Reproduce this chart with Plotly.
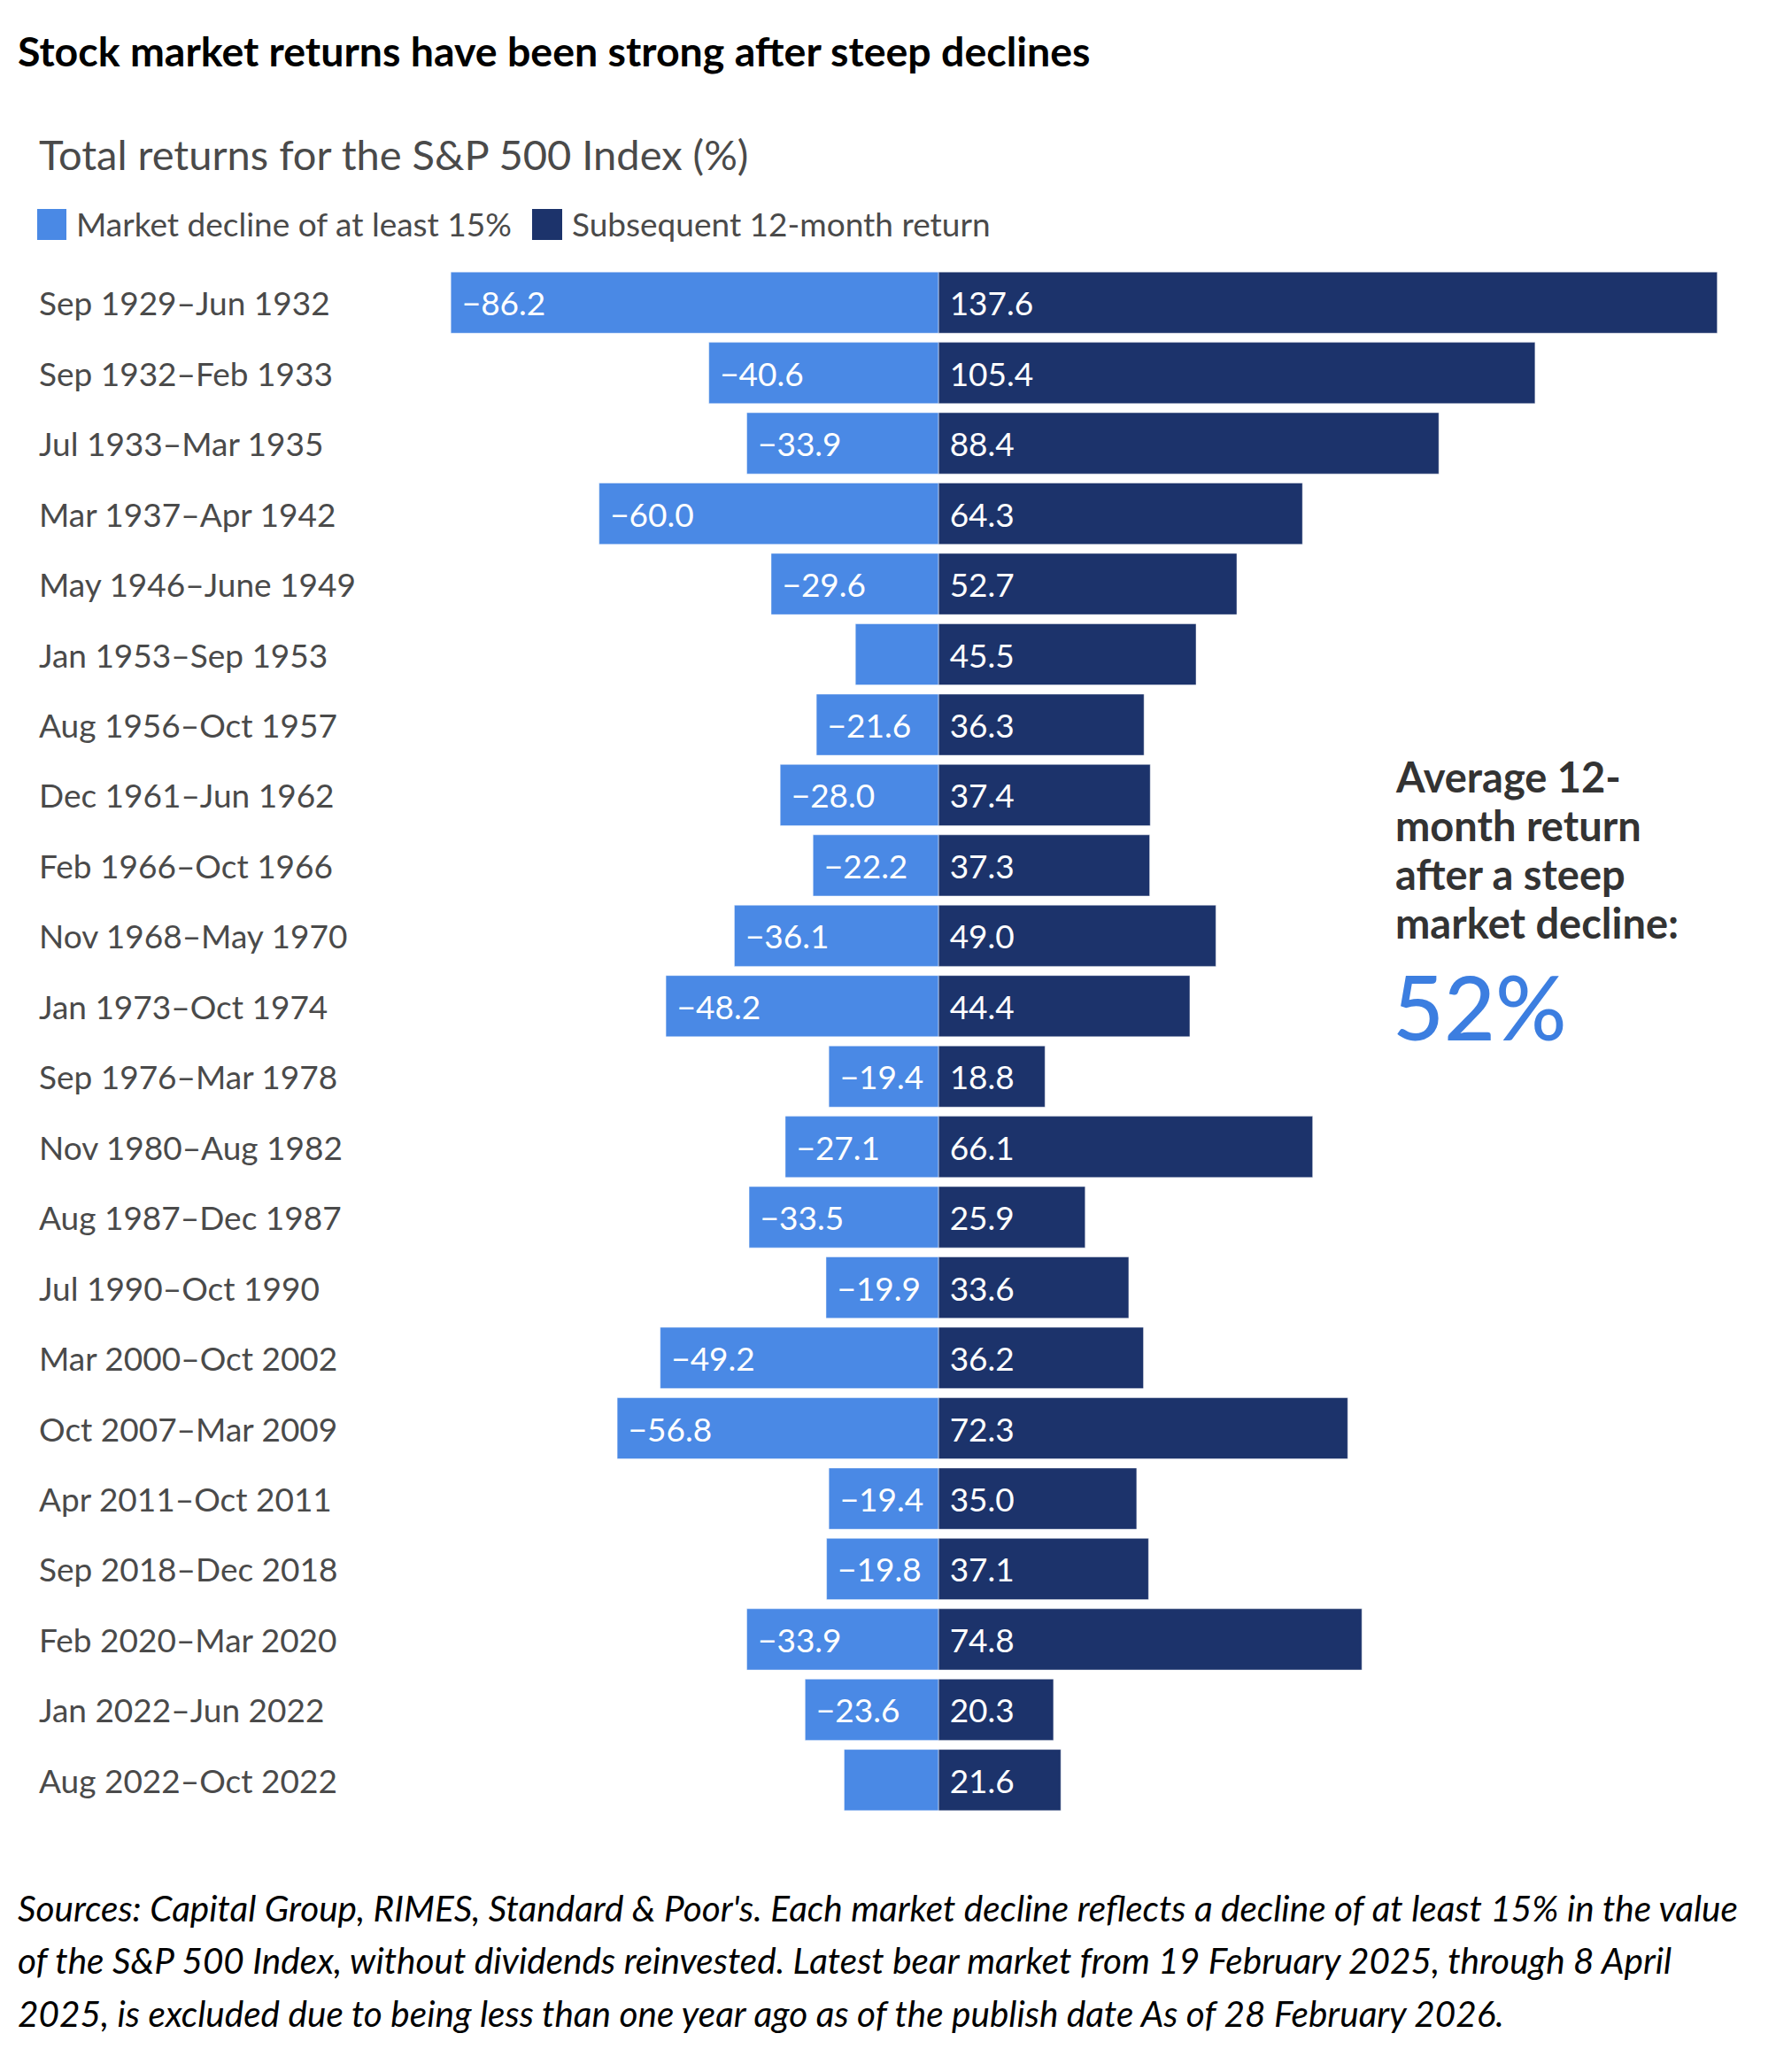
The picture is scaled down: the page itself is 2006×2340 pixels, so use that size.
import plotly.graph_objects as go

# ---------------- data ----------------
categories = [
    "Sep 1929–Jun 1932", "Sep 1932–Feb 1933", "Jul 1933–Mar 1935", "Mar 1937–Apr 1942",
    "May 1946–June 1949", "Jan 1953–Sep 1953", "Aug 1956–Oct 1957", "Dec 1961–Jun 1962",
    "Feb 1966–Oct 1966", "Nov 1968–May 1970", "Jan 1973–Oct 1974", "Sep 1976–Mar 1978",
    "Nov 1980–Aug 1982", "Aug 1987–Dec 1987", "Jul 1990–Oct 1990", "Mar 2000–Oct 2002",
    "Oct 2007–Mar 2009", "Apr 2011–Oct 2011", "Sep 2018–Dec 2018", "Feb 2020–Mar 2020",
    "Jan 2022–Jun 2022", "Aug 2022–Oct 2022",
]
declines = [-86.2, -40.6, -33.9, -60.0, -29.6, -14.7, -21.6, -28.0, -22.2, -36.1, -48.2,
            -19.4, -27.1, -33.5, -19.9, -49.2, -56.8, -19.4, -19.8, -33.9, -23.6, -16.7]
returns = [137.6, 105.4, 88.4, 64.3, 52.7, 45.5, 36.3, 37.4, 37.3, 49.0, 44.4,
           18.8, 66.1, 25.9, 33.6, 36.2, 72.3, 35.0, 37.1, 74.8, 20.3, 21.6]
unlabeled_declines = ["Jan 1953–Sep 1953", "Aug 2022–Oct 2022"]

series_names = ["Market decline of at least 15%", "Subsequent 12-month return"]
average_return_text = ["Average 12-", "month return", "after a steep", "market decline:"]
average_return_value = "52%"

title_text = "Stock market returns have been strong after steep declines"
subtitle_text = "Total returns for the S&P 500 Index (%)"
footnote_lines = [
    "Sources: Capital Group, RIMES, Standard & Poor's. Each market decline reflects a decline of at least 15% in the value",
    "of the S&P 500 Index, without dividends reinvested. Latest bear market from 19 February 2025, through 8 April",
    "2025, is excluded due to being less than one year ago as of the publish date As of 28 February 2026.",
]

# ---------------- styling ----------------
W, H = 2006, 2340
OFF = 8  # page body margin
# plot area in screenshot pixels
L, R, T, B = 421, 1955, 302, 2050
LIGHT = "#4A89E5"
DARK = "#1C336B"
GRAY = "#4a4a4a"
FONT = "Lato"
PAD = "\u00a0"


def px(xp):
    return (xp - L) / (R - L)


def py(yp):
    return (B - yp) / (B - T)


def fmt(v):
    s = f"{abs(v):.1f}"
    return ("−" + s) if v < 0 else s


decline_text = [("" if c in unlabeled_declines else PAD + fmt(v)) for c, v in zip(categories, declines)]
return_text = [PAD + fmt(v) for v in returns]

fig = go.Figure()
fig.add_trace(go.Bar(
    y=categories, x=declines, orientation="h", name=series_names[0],
    marker=dict(color=LIGHT, line=dict(color="rgba(255,255,255,0.45)", width=1)),
    text=decline_text, textposition="inside", insidetextanchor="end",
    textfont=dict(family=FONT, size=37, color="white"), constraintext="none",
    hoverinfo="skip",
))
fig.add_trace(go.Bar(
    y=categories, x=returns, orientation="h", name=series_names[1],
    marker=dict(color=DARK, line=dict(color="rgba(255,255,255,0.45)", width=1)),
    text=return_text, textposition="inside", insidetextanchor="start",
    textfont=dict(family=FONT, size=37, color="white"), constraintext="none",
    hoverinfo="skip",
))

annotations = []
# title / subtitle
annotations.append(dict(text=title_text, x=px(18), y=py(57), xref="paper", yref="paper",
                        xanchor="left", yanchor="middle", showarrow=False,
                        font=dict(family=FONT, size=46.5, color="black", weight=700)))
annotations.append(dict(text=subtitle_text, x=px(42), y=py(174), xref="paper", yref="paper",
                        xanchor="left", yanchor="middle", showarrow=False,
                        font=dict(family=FONT, size=47, color=GRAY)))
# legend
shapes = []
legend_items = [(42, 75, 84, LIGHT), (601, 635, 644, DARK)]
for name, (sx0, sx1, tx, col) in zip(series_names, legend_items):
    shapes.append(dict(type="rect", xref="paper", yref="paper", x0=px(sx0), x1=px(sx1),
                       y0=py(271), y1=py(236), fillcolor=col, line=dict(width=0)))
    annotations.append(dict(text=name, x=px(tx), y=py(252), xref="paper", yref="paper",
                            xanchor="left", yanchor="middle", showarrow=False,
                            font=dict(family=FONT, size=37, color=GRAY)))
# category labels
for c in categories:
    annotations.append(dict(text=c, x=px(42), y=c, xref="paper", yref="y",
                            xanchor="left", yanchor="middle", showarrow=False,
                            font=dict(family=FONT, size=37, color=GRAY)))
# average callout
for i, line in enumerate(average_return_text):
    annotations.append(dict(text=line, x=px(1574), y=py(877 + i * 55), xref="paper", yref="paper",
                            xanchor="left", yanchor="middle", showarrow=False,
                            font=dict(family=FONT, size=47, color="#333333", weight=700)))
annotations.append(dict(text=average_return_value, x=px(1571), y=py(1136), xref="paper", yref="paper",
                        xanchor="left", yanchor="middle", showarrow=False,
                        font=dict(family=FONT, size=100, color="#3C7EE0", weight=500)))
# footnote
for i, line in enumerate(footnote_lines):
    annotations.append(dict(text=line, x=px(18), y=py(2154 + i * 59.5), xref="paper", yref="paper",
                            xanchor="left", yanchor="middle", showarrow=False,
                            font=dict(family=FONT, size=40.5, color="black", style="italic")))

fig.update_layout(
    width=W, height=H,
    margin=dict(l=L - OFF, r=W - (R - OFF), t=T - OFF, b=H - (B - OFF), pad=0),
    paper_bgcolor="white", plot_bgcolor="white",
    barmode="relative", bargap=0.13,
    showlegend=False,
    xaxis=dict(range=[-100, 140], showgrid=False, zeroline=False, showticklabels=False,
               showline=False, fixedrange=True),
    yaxis=dict(categoryorder="array", categoryarray=categories, autorange="reversed",
               showgrid=False, zeroline=False, showticklabels=False, showline=False, fixedrange=True),
    annotations=annotations, shapes=shapes,
    hovermode=False,
)

fig.write_html("out.html")
